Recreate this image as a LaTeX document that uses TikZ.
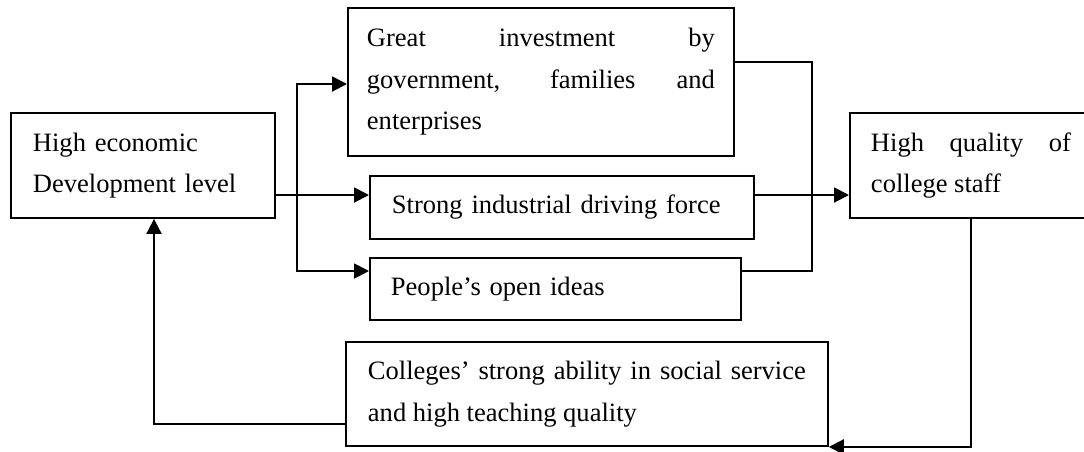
\documentclass[tikz,border=0pt]{standalone}
\usepackage{fontspec}
\setmainfont{Liberation Serif}
\usepackage{tikz}
\usetikzlibrary{arrows.meta,positioning}
\tikzstyle{box} = [draw, line width=1.1pt, anchor=north west, inner ysep=0pt, font=\fontsize{15.1pt}{23.6pt}\selectfont]
\tikzstyle{arrow} = [line width=1.1pt,-{Triangle[length=0.3cm,width=0.3cm]}]

\begin{document}
\begin{tikzpicture}[x=0.02cm, y=-0.02cm]
\useasboundingbox (0,0) rectangle (1084,451);
% boxes
\node[box, inner xsep=0.44cm, text width=4.4cm, minimum height=2.1cm, align=left] (eco) at (10,112) {High economic\\Development level};
\node[box, inner xsep=0.38cm, text width=6.96cm, minimum height=2.96cm, align=justify] (inv) at (347,7) {Great investment by\linebreak government, families and\linebreak enterprises};
\node[box, inner xsep=0.44cm, text width=6.8cm, minimum height=1.26cm, align=left] (ind) at (369,175) {Strong industrial driving force};
\node[box, inner xsep=0.42cm, text width=6.58cm, minimum height=1.24cm, align=left] (idea) at (369,257) {People’s open ideas};
\node[box, inner xsep=0.42cm, text width=4.0cm, minimum height=2.1cm, align=justify] (staff) at (849,112) {High quality of\linebreak college staff};
\node[box, inner xsep=0.44cm, text width=8.76cm, minimum height=2.08cm, align=justify] (serv) at (345,341) {Colleges’ strong ability in social service\linebreak and high teaching quality};

% links
\coordinate (lvl) at (0,195);
\coordinate (fork) at (297,195);
\draw[arrow] (eco.east |- lvl) -- (ind.west |- lvl);
\draw[arrow] (fork) |- (inv.west |- 0,84);
\draw[arrow] (fork) |- (idea.west |- 0,271);
\draw[line width=1.1pt] (inv.east |- 0,62) -| (812,271) -- (idea.east |- 0,271);
\draw[arrow] (ind.east |- lvl) -- (staff.west |- lvl);
\draw[arrow] (staff.south) |- (serv.south east);
\draw[arrow] (serv.west |- 0,424) -| (eco.south -| 154,0);
\end{tikzpicture}
\end{document}
